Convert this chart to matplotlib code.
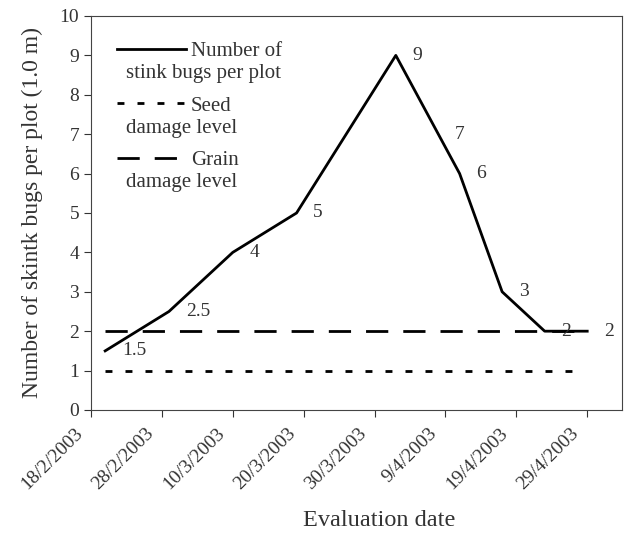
import pandas as pd
import matplotlib.pyplot as plt
import matplotlib.transforms as mtrans

plt.rcParams['font.family'] = ['Liberation Serif', 'DejaVu Serif']

# data
dates = pd.to_datetime(["2003-02-20", "2003-03-01", "2003-03-10", "2003-03-19", "2003-04-02",
                        "2003-04-08", "2003-04-11", "2003-04-17", "2003-04-23", "2003-04-29"])
bugs = [1.5, 2.5, 4, 5, 9, 7, 6, 3, 2, 2]
point_labels = ["1.5", "2.5", "4", "5", "9", "7", "6", "3", "2", "2"]
seed_dates = pd.to_datetime(["2003-02-20", "2003-04-27"])
seed_level = [1, 1]
grain_dates = pd.to_datetime(["2003-02-20", "2003-04-29"])
grain_level = [2, 2]
tick_dates = pd.date_range("2003-02-18", periods=8, freq="10D")
tick_labels = [f"{d.day}/{d.month}/{d.year}" for d in tick_dates]
legend_first = ["Number of", "Seed", "Grain"]
legend_second = ["stink bugs per plot", "damage level", "damage level"]

txt = '#333333'
fig = plt.figure(figsize=(6.34, 5.33), dpi=100)
ax = fig.add_axes([0.1435, 0.2308, 0.8375, 0.7392])

l1, = ax.plot(dates, bugs, color='black', lw=2)
l2, = ax.plot(seed_dates, seed_level, color='black', lw=2, dashes=(2.5, 4.7))
l3, = ax.plot(grain_dates, grain_level, color='black', lw=2, dashes=(8, 5.4))

for d, v, t in zip(dates, bugs, point_labels):
    ax.annotate(t, (d, v), xytext=(12, 0), textcoords='offset points',
                ha='left', va='center', fontsize=14, color=txt)

ax.set_xlim(pd.Timestamp("2003-02-18"), pd.Timestamp("2003-02-18") + pd.Timedelta(days=74.9))
ax.set_ylim(0, 10)
ax.set_yticks(range(0, 11))
ax.set_xticks(tick_dates)
ax.tick_params(labelsize=14, colors=txt, direction='out', length=5)
ax.set_xticklabels(tick_labels, rotation=45, ha='right', rotation_mode='anchor')
shift = mtrans.ScaledTranslation(-0.17, -0.03, fig.dpi_scale_trans)
for lab in ax.get_xticklabels():
    lab.set_transform(lab.get_transform() + shift)
for s in ax.spines.values():
    s.set_color('#444444')

ax.set_ylabel("Number of skintk bugs per plot (1.0 m)", fontsize=17, color=txt, labelpad=12)
ax.set_xlabel("Evaluation date", fontsize=17.5, color=txt, labelpad=12, x=0.542)

leg = ax.legend([l1, l2, l3], legend_first, loc='upper left', frameon=False, fontsize=15,
                handlelength=3.3, handletextpad=0.25, labelspacing=1.67,
                borderpad=0, borderaxespad=0, bbox_to_anchor=(0.049, 0.935))
for t, second in zip(leg.get_texts(), legend_second):
    t.set_color(txt)
    ax.annotate(second, xy=(0, 0.5), xycoords=t, xytext=(-47, -16), textcoords='offset points',
                ha='left', va='center', fontsize=15, color=txt, zorder=10)

plt.savefig("out.png", dpi=100)
